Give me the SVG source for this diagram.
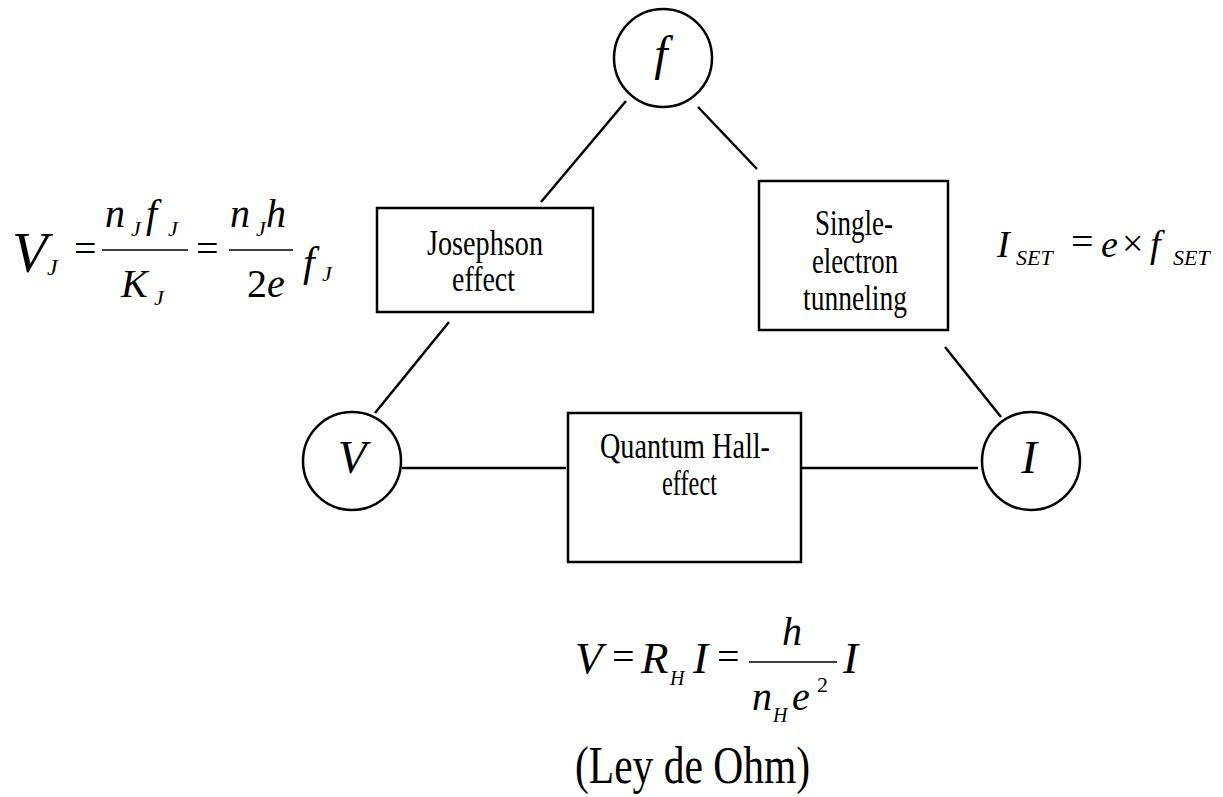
<svg xmlns="http://www.w3.org/2000/svg" width="1223" height="797" viewBox="0 0 1223 797">
<style>
.box{fill:none;stroke:#000;stroke-width:2.5}
.ln{stroke:#000;stroke-width:2.5;fill:none}
.bar{stroke:#000;stroke-width:1.6}
.lbl{font-family:"Liberation Serif",serif;font-size:35px;fill:#000;text-anchor:start}
.m{font-family:"Liberation Serif",serif;font-style:italic;fill:#000}
.u{font-family:"Liberation Serif",serif;fill:#000}
</style>
<rect width="1223" height="797" fill="#fff"/>
<g id="connectors">
<line class="ln" x1="626" y1="101" x2="541" y2="202"/>
<line class="ln" x1="698" y1="107" x2="757" y2="169"/>
<line class="ln" x1="449" y1="322" x2="375" y2="413"/>
<line class="ln" x1="945" y1="347" x2="1001" y2="417"/>
<line class="ln" x1="402" y1="468" x2="566" y2="468"/>
<line class="ln" x1="801" y1="468" x2="978" y2="468"/>
</g>
<g id="node-f">
<circle class="box" cx="663" cy="58" r="49"/>
<text class="m" x="661" y="70" font-size="48" text-anchor="middle">f</text>
</g>
<g id="node-V">
<circle class="box" cx="352" cy="461" r="49"/>
<text class="m" x="352" y="473" font-size="47" text-anchor="middle">V</text>
</g>
<g id="node-I">
<circle class="box" cx="1031" cy="461" r="49"/>
<text class="m" x="1029" y="473" font-size="47" text-anchor="middle">I</text>
</g>
<g id="node-josephson">
<rect class="box" x="377" y="208" width="216" height="104"/>
<text class="lbl" x="427" y="255" textLength="116" lengthAdjust="spacingAndGlyphs">Josephson</text>
<text class="lbl" x="452" y="291" textLength="63" lengthAdjust="spacingAndGlyphs">effect</text>
</g>
<g id="node-set">
<rect class="box" x="759" y="181" width="189" height="149"/>
<text class="lbl" x="815" y="235" textLength="78" lengthAdjust="spacingAndGlyphs">Single-</text>
<text class="lbl" x="812" y="273" textLength="86" lengthAdjust="spacingAndGlyphs">electron</text>
<text class="lbl" x="803" y="310" textLength="104" lengthAdjust="spacingAndGlyphs">tunneling</text>
</g>
<g id="node-hall">
<rect class="box" x="568" y="413" width="233" height="149"/>
<text class="lbl" x="600" y="458" textLength="170" lengthAdjust="spacingAndGlyphs">Quantum Hall-</text>
<text class="lbl" x="662" y="495" textLength="55" lengthAdjust="spacingAndGlyphs">effect</text>
</g>
<g id="eq-josephson">
<text class="m" x="12" y="272" font-size="58">V</text>
<text class="m" x="47" y="275" font-size="24">J</text>
<text class="u" x="74" y="262" font-size="40">=</text>
<line class="bar" x1="102" y1="250" x2="188" y2="250"/>
<text class="m" x="105" y="227" font-size="40">n</text>
<text class="m" x="131" y="236" font-size="22">J</text>
<text class="m" x="146" y="227" font-size="40">f</text>
<text class="m" x="168" y="236" font-size="22">J</text>
<text class="m" x="121" y="297" font-size="40">K</text>
<text class="m" x="154" y="305" font-size="22">J</text>
<text class="u" x="196" y="262" font-size="40">=</text>
<line class="bar" x1="229" y1="250" x2="293" y2="250"/>
<text class="m" x="230" y="227" font-size="40">n</text>
<text class="m" x="256" y="236" font-size="22">J</text>
<text class="m" x="266" y="227" font-size="40">h</text>
<text class="u" x="247" y="297" font-size="40">2</text>
<text class="m" x="267" y="297" font-size="40">e</text>
<text class="m" x="303" y="276" font-size="42">f</text>
<text class="m" x="322" y="281" font-size="22">J</text>
</g>
<g id="eq-set">
<text class="m" x="997" y="257" font-size="38">I</text>
<text class="m" x="1016" y="265" font-size="22">SET</text>
<text class="u" x="1071" y="255" font-size="40">=</text>
<text class="m" x="1101" y="257" font-size="38">e</text>
<text class="u" x="1122" y="256" font-size="38">×</text>
<text class="m" x="1150" y="257" font-size="38">f</text>
<text class="m" x="1173" y="265" font-size="22">SET</text>
</g>
<g id="eq-hall">
<text class="m" x="575" y="673" font-size="45">V</text>
<text class="u" x="612" y="670" font-size="40">=</text>
<text class="m" x="641" y="673" font-size="45">R</text>
<text class="m" x="670" y="685" font-size="20">H</text>
<text class="m" x="693" y="673" font-size="45">I</text>
<text class="u" x="717" y="670" font-size="40">=</text>
<line class="bar" x1="749" y1="662" x2="837" y2="662"/>
<text class="m" x="782" y="645" font-size="40">h</text>
<text class="m" x="752" y="710" font-size="40">n</text>
<text class="m" x="773" y="722" font-size="20">H</text>
<text class="m" x="792" y="710" font-size="40">e</text>
<text class="u" x="817" y="692" font-size="22">2</text>
<text class="m" x="843" y="673" font-size="45">I</text>
<text class="u" x="575" y="783" font-size="53" textLength="235" lengthAdjust="spacingAndGlyphs">(Ley de Ohm)</text>
</g>
</svg>
